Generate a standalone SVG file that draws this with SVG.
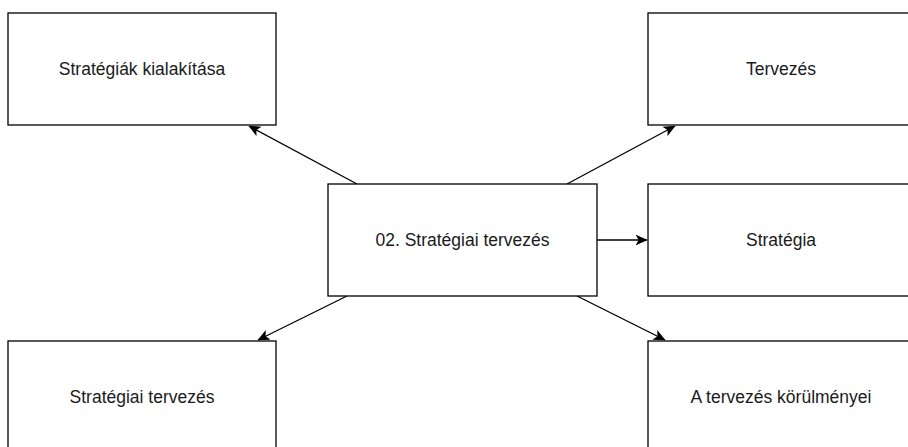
<svg xmlns="http://www.w3.org/2000/svg" width="908" height="447" viewBox="0 0 908 447">
  <style>
    .box { fill: #ffffff; stroke: #000000; stroke-width: 1.3; }
    .lbl { font-family: "Liberation Sans", Arial, sans-serif; font-size: 17.5px; fill: #1a1a1a; text-anchor: middle; }
    .edge { stroke: #000000; stroke-width: 1.3; fill: none; marker-end: url(#arrow); }
  </style>
  <defs>
    <marker id="arrow" viewBox="0 0 10 10" refX="9.5" refY="5" markerWidth="12" markerHeight="12" markerUnits="userSpaceOnUse" orient="auto">
      <path d="M0,0.5 L10,5 L0,9.5 L2.5,5 Z" fill="#000000"/>
    </marker>
  </defs>
  <rect width="908" height="447" fill="#ffffff"/>

  <g id="connectors">
    <line class="edge" x1="357" y1="184" x2="249" y2="126"/>
    <line class="edge" x1="567" y1="184" x2="675" y2="126"/>
    <line class="edge" x1="597" y1="240" x2="647" y2="240"/>
    <line class="edge" x1="347" y1="296" x2="258" y2="340"/>
    <line class="edge" x1="577" y1="296" x2="665" y2="340"/>
  </g>

  <g id="node-center">
    <rect class="box" x="328" y="184" width="269" height="112"/>
    <text class="lbl" x="462.5" y="246">02. Stratégiai tervezés</text>
  </g>
  <g id="node-strategiak-kialakitasa">
    <rect class="box" x="8" y="13" width="268" height="112"/>
    <text class="lbl" x="142" y="75">Stratégiák kialakítása</text>
  </g>
  <g id="node-tervezes">
    <rect class="box" x="648" y="13" width="268" height="112"/>
    <text class="lbl" x="781" y="75">Tervezés</text>
  </g>
  <g id="node-strategia">
    <rect class="box" x="648" y="184" width="268" height="112"/>
    <text class="lbl" x="781" y="246">Stratégia</text>
  </g>
  <g id="node-strategiai-tervezes">
    <rect class="box" x="8" y="341" width="268" height="112"/>
    <text class="lbl" x="142" y="403">Stratégiai tervezés</text>
  </g>
  <g id="node-korulmenyek">
    <rect class="box" x="648" y="341" width="268" height="112"/>
    <text class="lbl" x="781" y="403">A tervezés körülményei</text>
  </g>
</svg>
